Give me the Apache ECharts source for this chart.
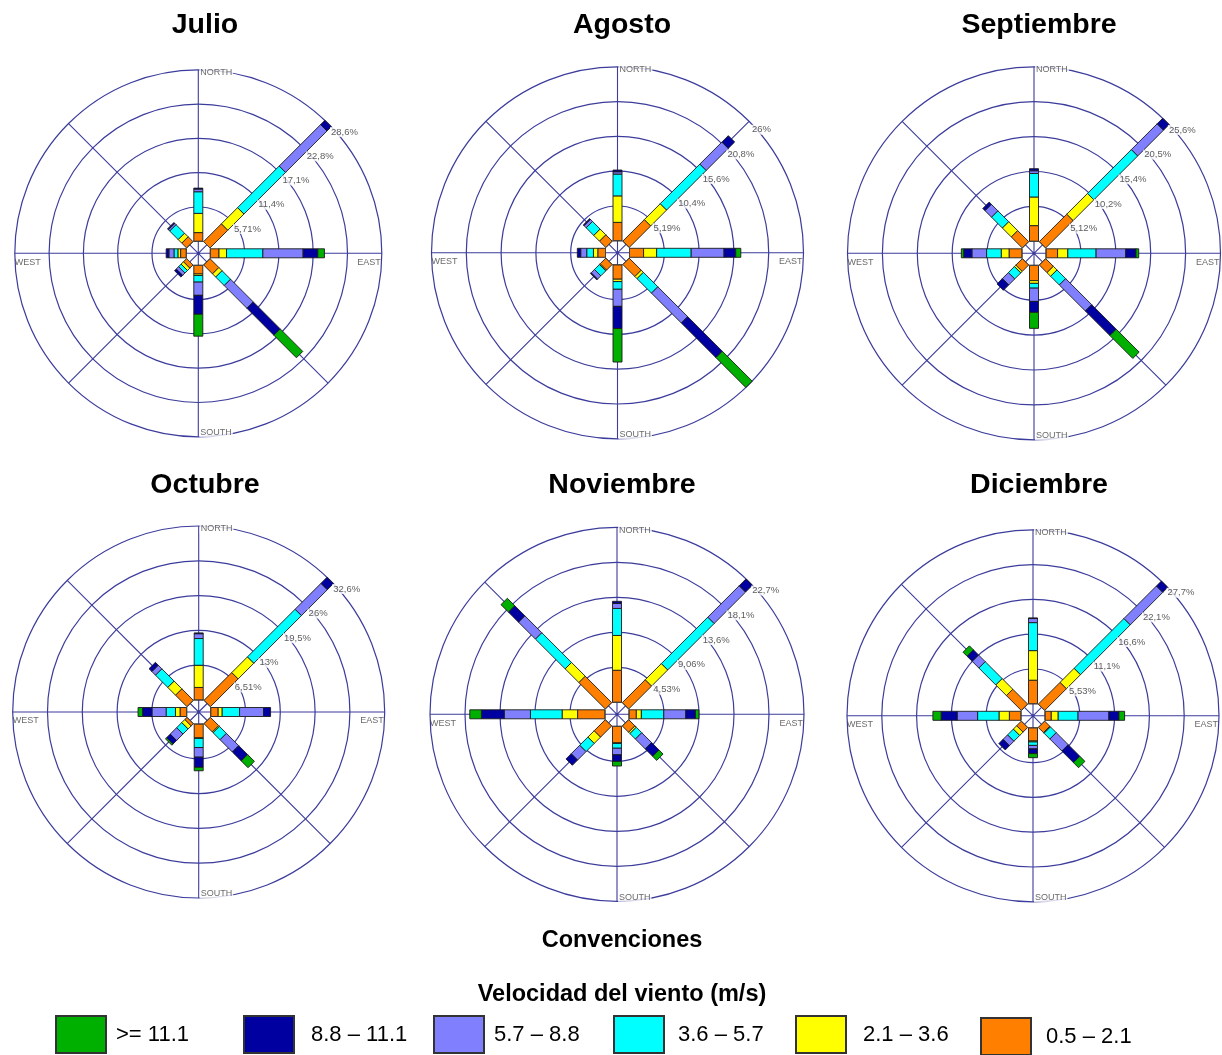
<!DOCTYPE html>
<html>
<head>
<meta charset="utf-8">
<title>Rosas de viento julio – diciembre</title>
<script src="https://cdn.jsdelivr.net/npm/echarts@6/dist/echarts.min.js"></script>
<style>
  html, body { margin: 0; padding: 0; background: #ffffff; }
  #chart { width: 1222px; height: 1055px; }
</style>
</head>
<body>
<div id="chart"></div>
<script>
// ---------------------------------------------------------------
// Data: wind frequency (%) by direction and speed class
// ---------------------------------------------------------------
const directions = ['N', 'NE', 'E', 'SE', 'S', 'SW', 'W', 'NW'];
const compassNames = { N: 'NORTH', E: 'EAST', S: 'SOUTH', W: 'WEST' };
const months = ['Julio', 'Agosto', 'Septiembre', 'Octubre', 'Noviembre', 'Diciembre'];

// speed classes from the centre outwards (m/s)
const speedClasses = ['0.5 – 2.1', '2.1 – 3.6', '3.6 – 5.7', '5.7 – 8.8', '8.8 – 11.1', '>= 11.1'];

// rows: speed class (same order as speedClasses); columns: directions
const julio = [
  [1.45, 4.20, 1.45, 2.10, 1.45, 0.75, 0.95, 1.15],
  [3.20, 3.80, 1.25, 0.75, 0.25, 0.55, 0.45, 0.85],
  [3.60, 9.80, 6.05, 2.00, 1.10, 0.60, 0.65, 2.00],
  [0.45, 9.75, 6.70, 5.35, 2.20, 0.55, 0.85, 0.30],
  [0.15, 1.00, 2.45, 6.35, 3.15, 0.40, 0.45, 0.20],
  [0.00, 0.00, 1.10, 5.30, 3.65, 0.00, 0.00, 0.00]
];
const agosto = [
  [2.75, 4.55, 2.10, 2.55, 2.15, 1.20, 1.15, 1.35],
  [3.95, 3.35, 1.95, 0.45, 0.35, 0.15, 0.65, 1.20],
  [3.25, 8.35, 5.15, 3.05, 1.15, 1.05, 1.00, 1.60],
  [0.35, 4.65, 4.90, 6.30, 2.55, 0.70, 0.90, 0.45],
  [0.25, 1.35, 1.75, 7.30, 3.30, 0.15, 0.50, 0.15],
  [0.00, 0.00, 0.75, 6.30, 5.00, 0.00, 0.00, 0.00]
];
const septiembre = [
  [2.30, 5.70, 1.70, 1.60, 2.25, 1.35, 1.90, 2.30],
  [4.20, 4.30, 1.50, 0.75, 0.40, 0.30, 1.15, 1.85],
  [3.45, 9.10, 4.15, 1.80, 0.70, 1.25, 2.15, 2.25],
  [0.40, 5.35, 4.35, 5.40, 1.95, 1.25, 2.15, 1.35],
  [0.30, 1.15, 1.50, 5.10, 1.60, 1.10, 1.20, 0.45],
  [0.00, 0.00, 0.40, 4.75, 2.35, 0.00, 0.35, 0.00]
];
const octubre = [
  [2.35, 7.35, 1.40, 2.20, 2.60, 0.60, 1.25, 3.05],
  [4.15, 4.15, 0.75, 0.20, 0.10, 0.80, 0.85, 2.05],
  [5.00, 12.60, 3.25, 1.85, 1.70, 1.35, 1.75, 3.25],
  [0.90, 6.85, 4.50, 3.25, 1.80, 1.70, 2.65, 0.95],
  [0.15, 1.60, 1.30, 2.35, 1.90, 0.95, 1.75, 0.75],
  [0.00, 0.00, 0.00, 1.80, 0.65, 0.30, 0.85, 0.00]
];
const noviembre = [
  [4.15, 4.20, 0.95, 1.15, 2.15, 2.05, 3.55, 4.85],
  [4.50, 2.95, 0.65, 0.25, 0.07, 1.15, 2.00, 2.50],
  [3.50, 8.50, 2.90, 1.00, 0.62, 1.50, 4.10, 5.45],
  [0.65, 5.75, 2.85, 1.80, 0.85, 1.55, 3.40, 3.10],
  [0.27, 1.25, 1.25, 1.35, 0.85, 0.95, 2.95, 1.85],
  [0.00, 0.00, 0.45, 0.75, 0.60, 0.00, 1.50, 1.35]
];
const diciembre = [
  [3.75, 4.90, 1.00, 1.15, 2.10, 1.05, 1.85, 3.35],
  [4.70, 3.15, 1.10, 0.15, 0.15, 0.75, 1.65, 2.40],
  [4.45, 11.20, 3.15, 1.30, 0.55, 1.30, 3.40, 3.80],
  [0.65, 7.30, 4.90, 2.70, 0.55, 1.00, 3.25, 1.50],
  [0.10, 1.10, 1.60, 2.60, 0.75, 0.95, 2.55, 1.15],
  [0.00, 0.00, 0.90, 1.15, 0.65, 0.00, 1.30, 0.90]
];

// ring spacing (%) for each month and the ring labels
const ringSteps = [5.71, 5.19, 5.12, 6.51, 4.53, 5.53];
const ringLabelsJulio = ['5,71%', '11,4%', '17,1%', '22,8%', '28,6%'];
const ringLabelsAgosto = ['5,19%', '10,4%', '15,6%', '20,8%', '26%'];
const ringLabelsSeptiembre = ['5,12%', '10,2%', '15,4%', '20,5%', '25,6%'];
const ringLabelsOctubre = ['6,51%', '13%', '19,5%', '26%', '32,6%'];
const ringLabelsNoviembre = ['4,53%', '9,06%', '13,6%', '18,1%', '22,7%'];
const ringLabelsDiciembre = ['5,53%', '11,1%', '16,6%', '22,1%', '27,7%'];

// legend order (left to right)
const legendOrder = ['>= 11.1', '8.8 – 11.1', '5.7 – 8.8', '3.6 – 5.7', '2.1 – 3.6', '0.5 – 2.1'];

// ---------------------------------------------------------------
// Layout and styling
// ---------------------------------------------------------------
const roseData = [julio, agosto, septiembre, octubre, noviembre, diciembre];
const ringLabels = [ringLabelsJulio, ringLabelsAgosto, ringLabelsSeptiembre,
                    ringLabelsOctubre, ringLabelsNoviembre, ringLabelsDiciembre];

const roseLayout = [
  { cx: 198.3, cy: 253.3, r: 183.5, tx: 205, ty: 25 },
  { cx: 617.5, cy: 252.8, r: 186, tx: 622, ty: 25 },
  { cx: 1034, cy: 253.3, r: 186.5, tx: 1039, ty: 25 },
  { cx: 198.7, cy: 712, r: 186, tx: 205, ty: 485 },
  { cx: 617, cy: 714.3, r: 187, tx: 622, ty: 485 },
  { cx: 1033, cy: 715.8, r: 186, tx: 1039, ty: 485 }
];
const HUB_RADIUS = 12;       // calm hub (px)
const BAR_HALF_WIDTH = 4.5;  // half width of the direction bars (px)

const classColors = {
  '0.5 – 2.1': '#ff8000',
  '2.1 – 3.6': '#ffff00',
  '3.6 – 5.7': '#00ffff',
  '5.7 – 8.8': '#8080ff',
  '8.8 – 11.1': '#0000a0',
  '>= 11.1': '#00b000'
};
const gridColor = '#3c3c9c';
const FONT = '"Liberation Sans", Arial, Helvetica, sans-serif';

const legendSlots = [
  { left: 55, top: 1015, gap: 5 },
  { left: 243, top: 1015, gap: 12 },
  { left: 433, top: 1015, gap: 5 },
  { left: 613, top: 1015, gap: 9 },
  { left: 795, top: 1015, gap: 12 },
  { left: 980, top: 1017, gap: 10 }
];

// ---------------------------------------------------------------
// Renderers
// ---------------------------------------------------------------
// one stacked segment of a direction bar: a constant-width rectangle
function renderSegment(params, api) {
  const dir = api.value(0);
  const from = api.value(1);
  const to = api.value(2);
  if (!(to > from)) return { type: 'group', children: [] };
  const p0 = api.coord([from, dir]);
  const p1 = api.coord([to, dir]);
  const dx = p1[0] - p0[0];
  const dy = p1[1] - p0[1];
  const len = Math.hypot(dx, dy) || 1;
  const nx = -dy / len * BAR_HALF_WIDTH;
  const ny = dx / len * BAR_HALF_WIDTH;
  return {
    type: 'polygon',
    shape: {
      points: [
        [p0[0] + nx, p0[1] + ny], [p1[0] + nx, p1[1] + ny],
        [p1[0] - nx, p1[1] - ny], [p0[0] - nx, p0[1] - ny]
      ]
    },
    style: { fill: api.visual('color'), stroke: '#1a1a1a', lineWidth: 0.9 }
  };
}

// octagonal calm hub whose flat sides meet the bars
function renderHub(params, api) {
  const cs = params.coordSys;
  const cx = cs.cx, cy = cs.cy;
  const mids = directions.map(function (d, i) { return api.coord([0, i]); });
  const k = 1 / (2 * Math.pow(Math.cos(Math.PI / 8), 2));
  const pts = mids.map(function (m, i) {
    const n = mids[(i + 1) % mids.length];
    return [cx + (m[0] - cx + n[0] - cx) * k, cy + (m[1] - cy + n[1] - cy) * k];
  });
  return {
    type: 'group',
    children: [
      { type: 'polygon', shape: { points: pts },
        style: { fill: 'rgba(255,255,255,0)', stroke: '#444', lineWidth: 1 } },
      { type: 'circle', shape: { cx: cx, cy: cy, r: 1.3 }, style: { fill: gridColor } }
    ]
  };
}

// ---------------------------------------------------------------
// Build option
// ---------------------------------------------------------------
const polar = [];
const angleAxis = [];
const radiusAxis = [];
const series = [];
const graphic = [];

roseData.forEach(function (rows, i) {
  const L = roseLayout[i];
  const step = ringSteps[i];
  const maxVal = Math.round(step * 5 * 1000) / 1000;
  const barPolar = 2 * i;
  const gridPolar = 2 * i + 1;

  // polar for bars and rings (starts at the hub)
  polar.push({ center: [L.cx, L.cy], radius: [HUB_RADIUS, L.r] });
  // polar for the direction spokes (from the centre)
  polar.push({ center: [L.cx, L.cy], radius: [0, L.r] });

  angleAxis.push({
    polarIndex: barPolar, type: 'category', data: directions,
    startAngle: 90 + 180 / directions.length, clockwise: true,
    axisLine: { show: false }, axisTick: { show: false },
    axisLabel: { show: false }, splitLine: { show: false }, splitArea: { show: false }
  });
  angleAxis.push({
    polarIndex: gridPolar, type: 'value', min: 0, max: 360, interval: 45,
    startAngle: 90, clockwise: true,
    axisLine: { show: false }, axisTick: { show: false }, axisLabel: { show: false },
    splitLine: { show: true, lineStyle: { color: gridColor, width: 1.1 } },
    splitArea: { show: false }
  });

  radiusAxis.push({
    polarIndex: barPolar, type: 'value', min: 0, max: maxVal, interval: step,
    axisLine: { show: false }, axisTick: { show: false }, axisLabel: { show: false },
    splitLine: {
      show: true,
      lineStyle: { color: ['rgba(0,0,0,0)', gridColor, gridColor, gridColor, gridColor, gridColor], width: 1.2 }
    },
    splitArea: { show: false }
  });
  radiusAxis.push({
    polarIndex: gridPolar, type: 'value', min: 0, max: 1,
    axisLine: { show: false }, axisTick: { show: false }, axisLabel: { show: false },
    splitLine: { show: false }, splitArea: { show: false }
  });

  // stacked bars: one custom series per speed class
  const base = directions.map(function () { return 0; });
  rows.forEach(function (vals, c) {
    const name = speedClasses[c];
    const data = vals.map(function (v, d) {
      const from = base[d];
      base[d] = from + v;
      return [d, from, base[d]];
    });
    series.push({
      type: 'custom', name: name, coordinateSystem: 'polar', polarIndex: barPolar,
      encode: { angle: 0, radius: [1, 2] },
      itemStyle: { color: classColors[name] },
      renderItem: renderSegment, data: data, z: 3, silent: true
    });
  });

  series.push({
    type: 'custom', coordinateSystem: 'polar', polarIndex: barPolar,
    encode: { angle: 0, radius: 1 },
    renderItem: renderHub, data: [[0, 0]], z: 4, silent: true
  });

  // ring labels along the NE spoke
  series.push({
    type: 'scatter', coordinateSystem: 'polar', polarIndex: barPolar,
    symbolSize: 0, silent: true, z: 5,
    data: ringLabels[i].map(function (t, k) { return [step * (k + 1), 'NE']; }),
    label: {
      show: true, position: 'right', distance: 2, offset: [0, 8.5],
      formatter: function (p) { return ringLabels[i][p.dataIndex]; },
      fontSize: 9.5, fontFamily: FONT, color: '#333',
      backgroundColor: '#ffffff', padding: [0, 1]
    }
  });

  // compass names
  const compassStyle = { fontSize: 9, fontFamily: FONT, color: '#444', backgroundColor: '#ffffff', padding: [0, 1] };
  series.push({
    type: 'scatter', coordinateSystem: 'polar', polarIndex: barPolar,
    symbolSize: 0, silent: true, z: 5,
    data: [
      { value: [maxVal, 'N'], label: Object.assign({ show: true, position: 'right', distance: 1, offset: [0, 3], formatter: compassNames.N }, compassStyle) },
      { value: [maxVal, 'S'], label: Object.assign({ show: true, position: 'right', distance: 1, offset: [0, -4], formatter: compassNames.S }, compassStyle) },
      { value: [maxVal, 'E'], label: Object.assign({ show: true, position: 'left', distance: 0, offset: [0, 9], formatter: compassNames.E }, compassStyle, { backgroundColor: 'transparent' }) },
      { value: [maxVal, 'W'], label: Object.assign({ show: true, position: 'right', distance: 0, offset: [-1, 9], formatter: compassNames.W }, compassStyle, { backgroundColor: 'transparent' }) }
    ]
  });

  graphic.push({
    type: 'text', x: L.tx, y: L.ty, silent: true,
    style: { text: months[i], font: 'bold 28.5px ' + FONT, fill: '#000', textAlign: 'center', textVerticalAlign: 'middle' }
  });
});

graphic.push({
  type: 'text', x: 622, y: 941, silent: true,
  style: { text: 'Convenciones', font: 'bold 23.5px ' + FONT, fill: '#000', textAlign: 'center', textVerticalAlign: 'middle' }
});
graphic.push({
  type: 'text', x: 622, y: 995, silent: true,
  style: { text: 'Velocidad del viento (m/s)', font: 'bold 23.5px ' + FONT, fill: '#000', textAlign: 'center', textVerticalAlign: 'middle' }
});

const legend = legendOrder.map(function (name, j) {
  const s = legendSlots[j];
  return {
    data: [name], left: s.left, top: s.top, padding: 0,
    itemWidth: 50, itemHeight: 37, icon: 'rect', selectedMode: false,
    itemStyle: { borderColor: '#333', borderWidth: 2 },
    textStyle: { fontSize: 22, color: '#000', fontFamily: FONT, padding: [0, 0, 0, s.gap] }
  };
});

const chart = echarts.init(document.getElementById('chart'), null, { renderer: 'canvas' });
chart.setOption({
  animation: false,
  backgroundColor: '#ffffff',
  polar: polar,
  angleAxis: angleAxis,
  radiusAxis: radiusAxis,
  legend: legend,
  graphic: graphic,
  series: series
});
</script>
</body>
</html>
